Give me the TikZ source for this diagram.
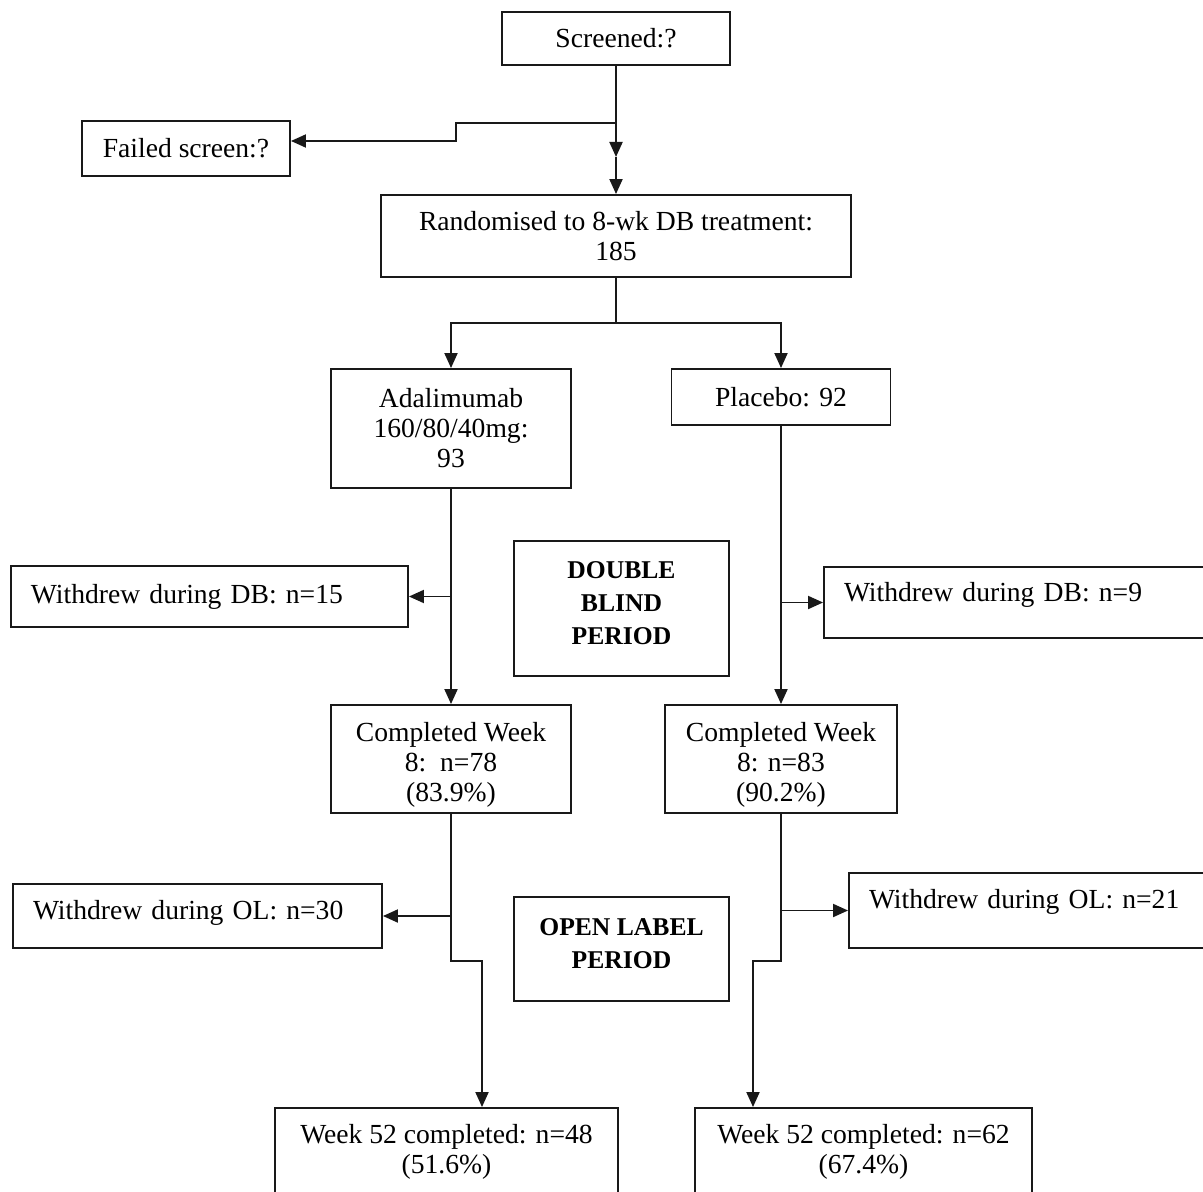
\documentclass[tikz,border=0pt]{standalone}
\usepackage{fontspec}
\setmainfont{Liberation Serif}
\usetikzlibrary{arrows.meta}
\newlength{\du}
\setlength{\du}{0.5pt}
\definecolor{dialinecolor}{rgb}{0.100000, 0.100000, 0.100000}
\tikzset{
  blk/.style={draw=dialinecolor, line width=0.95pt, fill=white, inner sep=0pt,
    align=center, font=\fontsize{13.8}{15}\selectfont},
  wdr/.style={blk, align=left, inner xsep=10pt},
  period/.style={blk, font=\fontsize{12.8}{16.5}\selectfont\bfseries},
  conn/.style={draw=dialinecolor, line width=0.95pt},
  arr/.style={conn, -{Triangle[length=7.5pt,width=6.5pt]}},
}

\begin{document}
\begin{tikzpicture}[x=\du,y=-1\du]
\useasboundingbox (0,0) rectangle (1203,1192);
% screening
\node[blk, minimum width=228\du, minimum height=53\du] (scr) at (616,38.5) {Screened:?};
\node[blk, minimum width=208\du, minimum height=55\du] (fail) at (186,148.5) {Failed screen:?};
\node[blk, minimum width=470\du, minimum height=82\du] (rand) at (616,236) {Randomised to 8-wk DB treatment:\\185};
% double blind
\node[blk, minimum width=240\du, minimum height=119\du] (ada) at (451,428.5) {Adalimumab\\160/80/40mg:\\93};
\node[blk, minimum width=219\du, minimum height=56\du] (plc) at (781,397) {Placebo: 92};
\node[wdr, text width=357\du, minimum width=397\du, minimum height=61\du] (wdbA) at (209.5,596.5) {Withdrew during DB: n=15};
\node[period, minimum width=215\du, minimum height=135\du, text depth=5.5pt] (dbp) at (621.5,608.5) {DOUBLE\\BLIND\\PERIOD};
\node[wdr, text width=351\du, minimum width=391\du, minimum height=71\du, text depth=11pt] (wdbP) at (1019.5,602.5) {Withdrew during DB: n=9};
\node[blk, minimum width=240\du, minimum height=108\du, text height=45pt, text depth=3pt] (compA) at (451,759) {Completed Week\\8:~~n=78\\(83.9\%)};
\node[blk, minimum width=232\du, minimum height=108\du, text height=45pt, text depth=3pt] (compP) at (781,759) {Completed Week\\8: n=83\\(90.2\%)};
% open label
\node[wdr, text width=329\du, minimum width=369\du, minimum height=64\du, text depth=6pt] (wolA) at (197.5,916) {Withdrew during OL: n=30};
\node[period, minimum width=215\du, minimum height=104\du, text depth=5.5pt] (olp) at (621.5,949) {OPEN LABEL\\PERIOD};
\node[wdr, text width=326\du, minimum width=366\du, minimum height=75\du, text depth=12pt] (wolP) at (1032,910.5) {Withdrew during OL: n=21};
\node[blk, minimum width=343\du, minimum height=92\du, text depth=5pt] (wkA) at (446.5,1154) {Week 52 completed: n=48\\(51.6\%)};
\node[blk, minimum width=337\du, minimum height=92\du, text depth=5pt] (wkP) at (863.5,1154) {Week 52 completed: n=62\\(67.4\%)};

\coordinate (scrsplit) at (616,123);
\coordinate (scrmid) at (616,157);
\coordinate (failstep) at (456,141);
\coordinate (randsplit) at (616,323);
\coordinate (olA) at (482,961);
\coordinate (olP) at (753,961);

\draw[arr] (scr) -- (scrmid);
\draw[arr] (scrmid) -- (rand);
\draw[arr] (scrsplit) -| (failstep) -- (failstep -| fail.east);
\draw[conn] (rand) -- (randsplit);
\draw[arr] (randsplit) -| (ada);
\draw[arr] (randsplit) -| (plc);
\draw[arr] (ada) -- (compA);
\draw[arr] (ada.south |- wdbA.east) -- (wdbA.east);
\draw[arr] (plc) -- (compP);
\draw[arr] (plc.south |- wdbP.west) -- (wdbP.west);
\draw[arr] (compA) |- (olA) -- (olA |- wkA.north);
\draw[arr] (compA.south |- wolA.east) -- (wolA.east);
\draw[arr] (compP) |- (olP) -- (olP |- wkP.north);
\draw[arr] (compP.south |- wolP.west) -- (wolP.west);
\end{tikzpicture}
\end{document}
